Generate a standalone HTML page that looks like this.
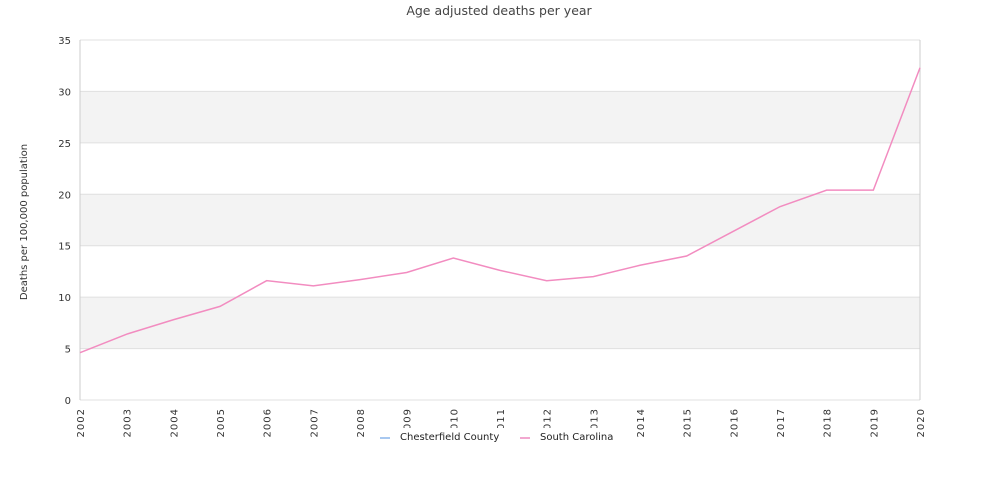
<!DOCTYPE html>
<html><head><meta charset="utf-8"><style>
body{margin:0;background:#fff;font-family:"DejaVu Sans","Liberation Sans",sans-serif}
svg text{font-family:"DejaVu Sans","Liberation Sans",sans-serif}
</style></head><body>
<svg id="c" width="1000" height="500">
<text x="499" y="15" text-anchor="middle" font-size="12.5" fill="#444">Age adjusted deaths per year</text>
<text transform="translate(27,222) rotate(-90)" text-anchor="middle" font-size="10" fill="#333">Deaths per 100,000 population</text>
<g id="bands"></g><g id="grid"></g><g id="xl"></g><g id="yl"></g>
<path id="line" fill="none" stroke="#f28cc0" stroke-width="1.5"/>
<g>
<rect x="370" y="428" width="255" height="18" fill="#fff"/>
<line x1="380" y1="438" x2="390" y2="438" stroke="#a8c8f0" stroke-width="2"/>
<text x="400" y="440" font-size="10" fill="#222">Chesterfield County</text>
<line x1="520" y1="438" x2="530" y2="438" stroke="#f2a8d0" stroke-width="2"/>
<text x="540" y="440" font-size="10" fill="#222">South Carolina</text>
</g>
</svg>
<script>
const years=["2002","2003","2004","2005","2006","2007","2008","2009","2010","2011","2012","2013","2014","2015","2016","2017","2018","2019","2020"];
const scValues=[4.6,6.4,7.8,9.1,11.6,11.1,11.7,12.4,13.8,12.6,11.6,12.0,13.1,14.0,16.4,18.8,20.4,20.4,32.3];
const yTicks=[0,5,10,15,20,25,30,35];
const X0=80,X1=920,Y0=400,Y1=40,YMAX=35;
const xs=i=>X0+i*(X1-X0)/(years.length-1);
const ys=v=>Y0-v*(Y0-Y1)/YMAX;
const NS="http://www.w3.org/2000/svg";
function mk(t,p,a){const e=document.createElementNS(NS,t);for(const k in a)e.setAttribute(k,a[k]);document.getElementById(p).appendChild(e);return e;}
for(let i=0;i<yTicks.length-1;i++){if(i%2==1){const r=mk('rect','bands',{x:X0,y:ys(yTicks[i+1]),width:X1-X0,height:ys(yTicks[i])-ys(yTicks[i+1]),fill:'#f3f3f3'});

}}
yTicks.forEach(v=>{const l=mk('line','grid',{x1:X0,x2:X1,y1:ys(v),y2:ys(v),stroke:'#e0e0e0'});


const t=mk('text','yl',{x:71,y:ys(v)+4,'text-anchor':'end','font-size':10,fill:'#333'});t.textContent=v;

});
mk('line','grid',{x1:X0,x2:X0,y1:Y1,y2:Y0,stroke:'#ccc'});mk('line','grid',{x1:X1,x2:X1,y1:Y1,y2:Y0,stroke:'#ccc'});
years.forEach((y,i)=>{const t=mk('text','xl',{transform:`translate(${xs(i)+4},${408}) rotate(-90)`,'text-anchor':'end','font-size':10,fill:'#333','letter-spacing':'1'});t.textContent=y;

});
document.getElementById('line').setAttribute('d',scValues.map((v,i)=>(i?'L':'M')+xs(i)+' '+ys(v)).join(' '));
</script>
</body></html>
